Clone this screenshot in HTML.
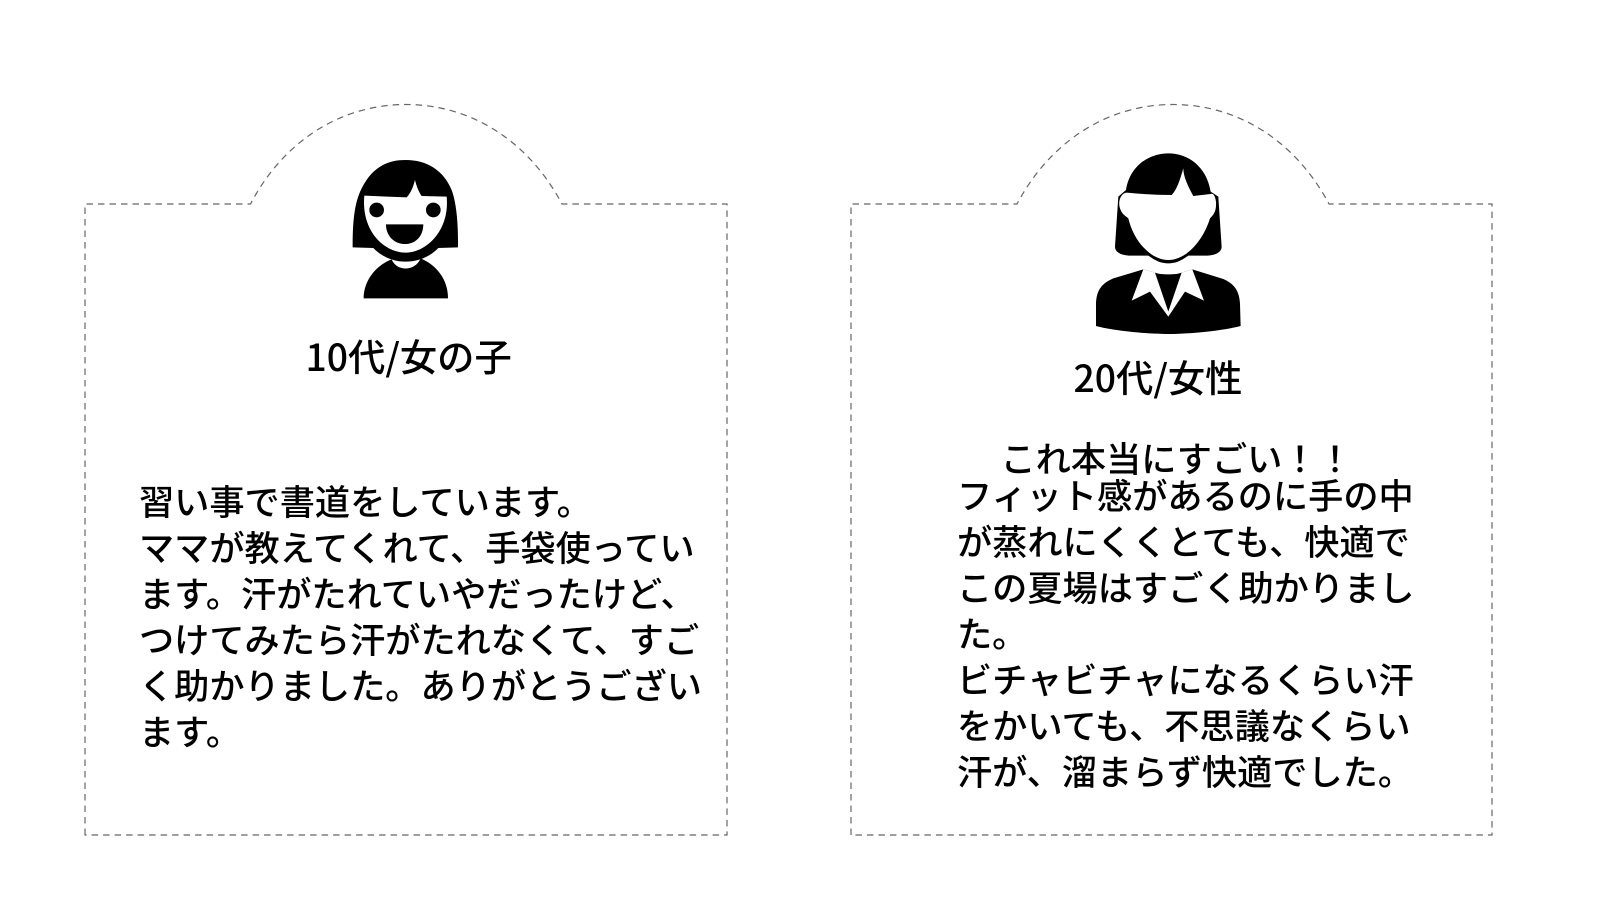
<!DOCTYPE html>
<html lang="ja"><head><meta charset="utf-8"><style>
html,body{margin:0;padding:0;background:#fff}
body{width:1601px;height:901px;position:relative;overflow:hidden;font-family:"Noto Sans CJK JP","Liberation Sans",sans-serif;color:#000}
svg{position:absolute;left:0;top:0}
.t{position:absolute;white-space:nowrap;font-size:35.2px;line-height:46px;font-weight:500}
.l{position:absolute;white-space:nowrap;font-size:37.3px;line-height:44px;font-weight:500}
</style></head><body>
<svg width="1601" height="901" viewBox="0 0 1601 901">
<g fill="none" stroke="#666" stroke-width="1.2" stroke-dasharray="6.5 5">
<path d="M85,835 L85,204 L250.500,204 C284,140 342,104.500 406,104.500 C470,104.500 528,140 562,204 L727,204 L727,835 Z"/>
<path d="M851,835 L851,204 L1017,204 C1051,140 1109,104.500 1173,104.500 C1237,104.500 1295,140 1329,204 L1492,204 L1492,835 Z"/>
</g>
<g transform="translate(230,90) scale(.3333)">
<path d="M368,472 C368,400 372,340 395,295 C430,225 480,210 527,210 C590,210 640,240 665,300 C682,345 685,420 684,472 L625,474 C600,500 565,515 527,515 C490,515 455,500 430,474 Z"/>
<path fill="#fff" d="M403,317 L530,322 C542,310 550,290 555,270 C560,290 566,305 575,318 L650,320 C660,420 590,488 527,488 C460,488 393,420 403,317 Z"/>
<circle cx="440" cy="360" r="22"/><circle cx="610" cy="360" r="22"/>
<path d="M468,403 L580,403 C580,440 555,462 525,462 C495,462 468,440 468,403 Z"/>
<path d="M401,625 C401,570 440,525 485,508 C500,545 555,545 572,505 C620,525 655,570 654,625 Z"/>
</g>
<g transform="translate(980,90) scale(.3333)">
<path d="M438,300 C450,225 510,190 565,190 C625,190 680,230 692,305 L715,320 L725,470 C725,490 700,498 670,497 L625,497 C600,515 585,520 565,520 C545,520 530,515 505,497 L460,497 C430,498 405,490 405,470 L415,320 Z"/>
<path fill="#fff" d="M440,308 C420,310 412,340 422,360 C428,375 440,380 445,385 C460,450 510,510 565,510 C620,510 670,450 690,385 C700,375 710,365 708,335 C705,310 695,310 692,312 L640,318 C625,290 610,260 610,235 C600,270 590,300 575,315 C530,315 480,312 440,308 Z"/>
<path d="M490,538 L400,565 C365,580 350,600 348,640 L348,708 C400,722 500,732 565,732 C630,732 730,722 782,708 L780,640 C778,600 760,580 730,567 L637,538 L605,548 C590,555 540,555 525,548 Z"/>
<path fill="#fff" d="M490,538 L455,632 L510,605 L565,680 L615,605 L672,632 L637,538 L605,548 L565,665 L525,548 Z"/>
</g>
</svg>
<div class="l" style="left:305.500px;top:333px">10代/女の子</div>
<div class="l" style="left:1073.500px;top:354px">20代/女性</div>
<div class="t" style="left:139px;top:477.500px">習い事で書道をしています。<br>ママが教えてくれて、手袋使ってい<br>ます。汗がたれていやだったけど、<br>つけてみたら汗がたれなくて、すご<br>く助かりました。ありがとうござい<br>ます。</div>
<div class="t" style="left:1000.500px;top:435px">これ本当にすごい！！</div>
<div class="t" style="left:957px;top:471.500px">フィット感があるのに手の中<br>が蒸れにくくとても、快適で<br>この夏場はすごく助かりまし<br>た。<br>ビチャビチャになるくらい汗<br>をかいても、不思議なくらい<br>汗が、溜まらず快適でした。</div>
</body></html>
